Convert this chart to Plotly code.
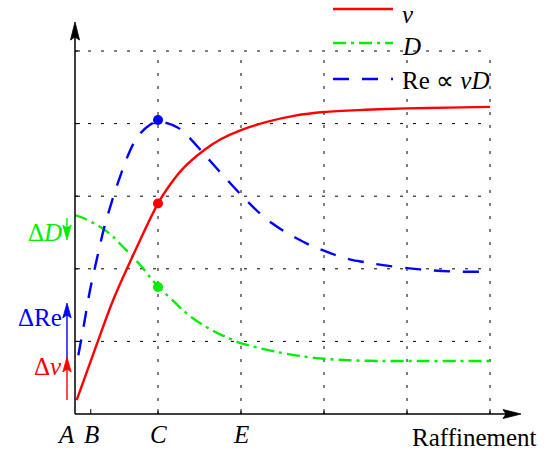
import plotly.graph_objects as go

# ---------------- data ----------------
# velocity v
x_v = [0.02, 0.25, 0.46, 0.75, 1.0, 1.14, 1.3, 1.55, 1.75, 2.0, 2.3, 2.65, 3.0, 3.5, 4.0, 4.5, 5.0]
y_v = [0.19, 0.92, 1.57, 2.31, 2.9, 3.15, 3.38, 3.63, 3.78, 3.91, 4.02, 4.11, 4.16, 4.19, 4.21, 4.22, 4.23]
# diameter D
x_d = [0.0, 0.1, 0.22, 0.34, 0.46, 0.58, 0.70, 0.81, 0.9, 1.0, 1.08, 1.2, 1.3, 1.42, 1.55, 1.69,
       1.82, 1.96, 2.11, 2.41, 2.71, 3.01, 3.31, 3.7, 4.2, 4.6, 5.0]
y_d = [2.74, 2.70, 2.63, 2.55, 2.44, 2.30, 2.16, 2.02, 1.89, 1.76, 1.67, 1.54, 1.43, 1.32, 1.22, 1.13,
       1.06, 0.99, 0.94, 0.86, 0.80, 0.76, 0.74, 0.73, 0.73, 0.73, 0.73]
# Reynolds number Re ~ vD
x_re = [0.04, 0.1, 0.18, 0.28, 0.35, 0.45, 0.54, 0.66, 0.76, 0.9, 1.0, 1.23, 1.35, 1.54, 1.75, 2.0,
        2.23, 2.37, 2.53, 2.67, 2.86, 3.0, 3.19, 3.35, 3.55, 3.71, 4.0, 4.28, 4.64, 5.0]
y_re = [0.81, 1.18, 1.70, 2.22, 2.56, 2.95, 3.26, 3.62, 3.83, 3.98, 4.03, 3.95, 3.84, 3.60, 3.33, 3.02,
        2.76, 2.63, 2.51, 2.42, 2.31, 2.25, 2.17, 2.12, 2.08, 2.05, 2.01, 1.98, 1.96, 1.96]
# highlighted points at C
pt_x = [1.0]
pt_v = [2.9]
pt_d = [1.75]
pt_re = [4.05]
# axis ticks / labels
x_ticks = [0.19, 1, 2, 3, 4, 5]
x_labels = ["A", "B", "C", "E"]
x_label_pos = [-0.11, 0.2, 1.0, 2.0]
grid_x = [1, 2, 3, 4, 5]
grid_y = [1, 2, 3, 4, 5]
legend_names = ["<i>v</i>", "<i>D</i>", "Re ∝ <i>vD</i>"]

# ---------------- geometry helpers ----------------
W, H = 548, 453
X0, Y0 = 75.0, 414.0      # pixel position of origin
SX, SY = 83.0, 72.6       # pixels per unit
xr = [-X0 / SX, (W - X0) / SX]
yr = [(Y0 - H) / SY, Y0 / SY]


def dx(px):
    return px / SX


def dy(px):
    return px / SY


FONT = "Liberation Serif"
RED, GREEN, BLUE = "#ff0000", "#00ee00", "#0000ff"
DASH_D = "13px,5px,3px,5px"
DASH_RE = "16px,13px"
SM = 0.9

fig = go.Figure()

# curves
fig.add_trace(go.Scatter(x=x_d, y=y_d, mode="lines", line=dict(color=GREEN, width=2.4, dash=DASH_D,
                                                               shape="spline", smoothing=SM)))
fig.add_trace(go.Scatter(x=x_re, y=y_re, mode="lines", line=dict(color=BLUE, width=2.4, dash=DASH_RE,
                                                                 shape="spline", smoothing=SM)))
fig.add_trace(go.Scatter(x=x_v, y=y_v, mode="lines", line=dict(color=RED, width=2.4,
                                                               shape="spline", smoothing=SM)))
# points at C
fig.add_trace(go.Scatter(x=pt_x, y=pt_v, mode="markers", marker=dict(color=RED, size=10)))
fig.add_trace(go.Scatter(x=pt_x, y=pt_d, mode="markers", marker=dict(color=GREEN, size=10)))
fig.add_trace(go.Scatter(x=pt_x, y=pt_re, mode="markers", marker=dict(color=BLUE, size=10)))

# legend samples (drawn manually)
leg_x0, leg_x1 = (333 - X0) / SX, (393 - X0) / SX
leg_rows = [(Y0 - 9) / SY, (Y0 - 43) / SY, (Y0 - 79) / SY]
leg_styles = [dict(color=RED, width=2.4), dict(color=GREEN, width=2.4, dash=DASH_D),
              dict(color=BLUE, width=2.4, dash=DASH_RE)]
for ry, st in zip(leg_rows, leg_styles):
    fig.add_trace(go.Scatter(x=[leg_x0, leg_x1], y=[ry, ry], mode="lines", line=st))

shapes = []
# dotted grid
for gy in grid_y:
    shapes.append(dict(type="line", xref="x", yref="y", x0=0, x1=grid_x[-1], y0=gy, y1=gy,
                       line=dict(color="black", width=1, dash="3px,10px"), layer="below"))
for gx in grid_x:
    shapes.append(dict(type="line", xref="x", yref="y", x0=gx, x1=gx, y0=0, y1=grid_y[-1],
                       line=dict(color="black", width=1, dash="3px,10px"), layer="below"))

# axes with arrows
x_tip = (521 - X0) / SX
y_tip = (Y0 - 22) / SY
shapes.append(dict(type="line", xref="x", yref="y", x0=0, x1=x_tip - dx(10), y0=0, y1=0,
                   line=dict(color="black", width=1.5)))
shapes.append(dict(type="line", xref="x", yref="y", x0=0, x1=0, y0=0, y1=y_tip - dy(10),
                   line=dict(color="black", width=1.5)))


def tri(tx, ty, direction, length, half):
    if direction == "right":
        pts = [(tx, ty), (tx - dx(length), ty + dy(half)), (tx - dx(length) + dx(3), ty),
               (tx - dx(length), ty - dy(half))]
    elif direction == "up":
        pts = [(tx, ty), (tx - dx(half), ty - dy(length)), (tx, ty - dy(length) + dy(3)),
               (tx + dx(half), ty - dy(length))]
    else:  # down
        pts = [(tx, ty), (tx - dx(half), ty + dy(length)), (tx, ty + dy(length) - dy(3)),
               (tx + dx(half), ty + dy(length))]
    return "M " + " L ".join(f"{a:.5f},{b:.5f}" for a, b in pts) + " Z"


def head(tx, ty, direction, color, length=18, half=4.5):
    return dict(type="path", xref="x", yref="y", path=tri(tx, ty, direction, length, half),
                fillcolor=color, line=dict(color=color, width=0.8))


shapes.append(head(x_tip, 0, "right", "black"))
shapes.append(head(0, y_tip, "up", "black"))

# ticks
for tx in x_ticks:
    shapes.append(dict(type="line", xref="x", yref="y", x0=tx, x1=tx, y0=0, y1=dy(5),
                       line=dict(color="black", width=1)))
for ty in grid_y:
    shapes.append(dict(type="line", xref="x", yref="y", x0=0, x1=dx(5), y0=ty, y1=ty,
                       line=dict(color="black", width=1)))

# delta arrows on the left
ax_x = (67 - X0) / SX
delta_arrows = [
    (GREEN, (Y0 - 218) / SY, (Y0 - 240) / SY, "down"),
    (BLUE, (Y0 - 360) / SY, (Y0 - 303) / SY, "up"),
    (RED, (Y0 - 400) / SY, (Y0 - 357) / SY, "up"),
]
for col, ys, yt, d in delta_arrows:
    if d == "up":
        shapes.append(dict(type="line", xref="x", yref="y", x0=ax_x, x1=ax_x, y0=ys, y1=yt - dy(10),
                           line=dict(color=col, width=1.4)))
    else:
        shapes.append(dict(type="line", xref="x", yref="y", x0=ax_x, x1=ax_x, y0=ys, y1=yt + dy(10),
                           line=dict(color=col, width=1.4)))
    shapes.append(head(ax_x, yt, d, col, length=15, half=4.2))

annotations = []
FS = 25
# x labels
for lab, lx in zip(x_labels, x_label_pos):
    annotations.append(dict(x=lx, y=(Y0 - 434) / SY, xref="x", yref="y", text=f"<i>{lab}</i>",
                            showarrow=False, xanchor="center", yanchor="middle", borderpad=0,
                            font=dict(family=FONT, size=FS, color="black")))
annotations.append(dict(x=(474 - X0) / SX, y=(Y0 - 437) / SY, xref="x", yref="y", text="Raffinement",
                        showarrow=False, xanchor="center", yanchor="middle", borderpad=0,
                        font=dict(family=FONT, size=FS, color="black")))
# delta labels
delta_labels = [("Δ<i>D</i>", GREEN, 232), ("ΔRe", BLUE, 317), ("Δ<i>v</i>", RED, 366)]
for txt, col, py in delta_labels:
    annotations.append(dict(x=(63 - X0) / SX, y=(Y0 - py) / SY, xref="x", yref="y", text=txt,
                            showarrow=False, xanchor="right", yanchor="middle", borderpad=0,
                            font=dict(family=FONT, size=FS, color=col)))
# legend texts (first one anchored to the top edge so it is not clipped)
annotations.append(dict(x=(401 - X0) / SX, y=1, xref="x", yref="paper", text=legend_names[0],
                        showarrow=False, xanchor="left", yanchor="top", borderpad=0,
                        font=dict(family=FONT, size=FS, color="black")))
leg_text_y = [46, 80]
for name, py in zip(legend_names[1:], leg_text_y):
    annotations.append(dict(x=(401 - X0) / SX, y=(Y0 - py) / SY, xref="x", yref="y", text=name,
                            showarrow=False, xanchor="left", yanchor="middle", borderpad=0,
                            font=dict(family=FONT, size=FS, color="black")))

fig.update_layout(
    width=W, height=H, autosize=False,
    margin=dict(l=0, r=0, t=0, b=0, pad=0),
    paper_bgcolor="white", plot_bgcolor="white",
    showlegend=False,
    xaxis=dict(range=xr, visible=False, fixedrange=True),
    yaxis=dict(range=yr, visible=False, fixedrange=True),
    shapes=shapes, annotations=annotations,
)

fig.write_html("out.html", config={"displayModeBar": False},
               post_script="document.body.style.margin='0px';document.body.style.overflow='hidden';")
